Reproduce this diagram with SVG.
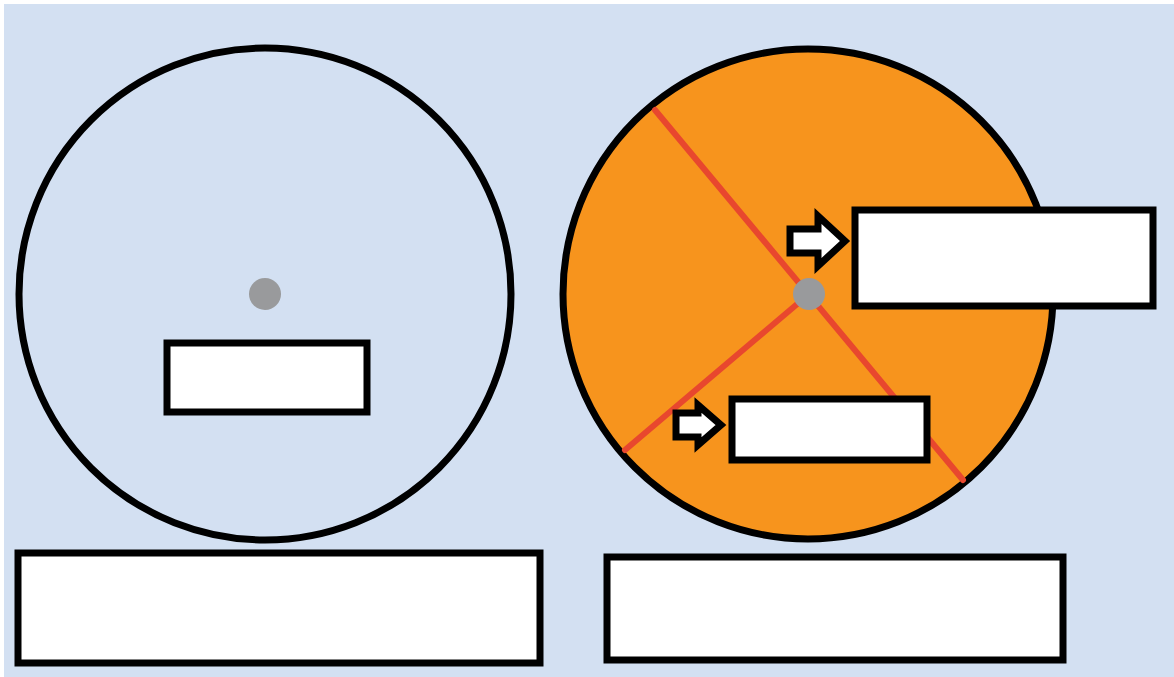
<svg xmlns="http://www.w3.org/2000/svg" width="1174" height="677" viewBox="0 0 1174 677">
<style>
.box{fill:#ffffff;stroke:#000000;stroke-width:7}
.ring{stroke:#000000;stroke-width:7}
.dot{fill:#999a9c}
.red{stroke:#e8472e;stroke-width:6;fill:none;stroke-linecap:round}
.arrow{fill:#ffffff;stroke:#000000;stroke-width:7;stroke-linejoin:miter}
</style>
<rect x="0" y="0" width="1174" height="677" fill="#ffffff"/>
<rect x="4" y="4" width="1170" height="673" fill="#d3e0f2"/>
<g id="left-wheel">
<circle class="ring" cx="265" cy="294" r="246" fill="none"/>
<circle class="dot" cx="265" cy="294" r="16"/>
</g>
<g id="right-wheel">
<circle class="ring" cx="808" cy="294" r="245" fill="#f7941d"/>
</g>
<g id="connectors">
<line class="red" x1="655" y1="110" x2="963" y2="480"/>
<line class="red" x1="809" y1="294" x2="625" y2="450"/>
</g>
<g id="hub">
<circle class="dot" cx="809" cy="294" r="16"/>
</g>
<g id="left-label">
<rect class="box" x="167" y="343" width="200" height="69"/>
</g>
<g id="arrow-top">
<path class="arrow" d="M790,229 L818,229 L818,216 L845,241 L818,266 L818,253 L790,253 Z"/>
</g>
<g id="arrow-bottom">
<path class="arrow" d="M676,413 L698,413 L698,405 L721,425 L698,445 L698,437 L676,437 Z"/>
</g>
<g id="right-top-label">
<rect class="box" x="855" y="210" width="298" height="96"/>
</g>
<g id="right-small-label">
<rect class="box" x="732" y="399" width="195" height="61"/>
</g>
<g id="bottom-left-label">
<rect class="box" x="18" y="553" width="522" height="110"/>
</g>
<g id="bottom-right-label">
<rect class="box" x="607" y="557" width="456" height="103"/>
</g>
</svg>
